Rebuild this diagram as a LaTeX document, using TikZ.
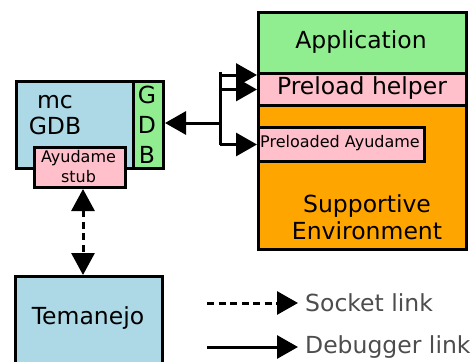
\documentclass[tikz,border=0pt]{standalone}
\usepackage{fontspec}
\setmainfont{DejaVu Sans}
\usetikzlibrary{arrows.meta}
\definecolor{lblue}{HTML}{ADD8E6}
\definecolor{lgreen}{HTML}{90EE90}
\definecolor{lpink}{HTML}{FFC0CB}
\definecolor{lorange}{HTML}{FFA500}
\definecolor{leggray}{HTML}{4D4D4D}
\begin{document}
\begin{tikzpicture}[x=1pt,y=-1pt,
  box/.style={draw=black, line width=3pt, inner sep=0pt, anchor=north west},
  big/.style={font=\fontsize{23.5}{27}\selectfont, inner sep=0pt},
  small/.style={font=\fontsize{16}{20}\selectfont, inner sep=0pt},
  dbg/.style={line width=3pt, -{Triangle[length=21pt,width=23pt]}},
  sock/.style={line width=3pt, dash pattern=on 7pt off 4.5pt},
  legtext/.style={font=\fontsize{23.5}{27}\selectfont, text=leggray, inner sep=0pt, anchor=west}]
\useasboundingbox (0,0) rectangle (472,362);
\clip (0,0) rectangle (472,362);

% left block
\node[box, fill=lblue, minimum width=117pt, minimum height=87pt] (mc) at (15,80) {};
\node[box, fill=lgreen, minimum width=30pt, minimum height=87pt] (gdb) at (132,80) {};
\node[box, fill=lpink, minimum width=91pt, minimum height=40pt] (stub) at (33,146) {};
\node[big, align=center, font=\fontsize{23.5}{26}\selectfont] (mclabel) at (55,115) {mc\\GDB};
\node[big, align=center, font=\fontsize{23.5}{30}\selectfont] (gdblabel) at (147,125) {G\\D\\B};
\node[small, align=center] (stublabel) at (78.5,167) {Ayudame\\stub};

% right block
\node[box, fill=lorange, minimum width=208pt, minimum height=144pt] (env) at (257,104) {};
\node[box, fill=lgreen, minimum width=208pt, minimum height=61pt] (app) at (257,11) {};
\node[box, fill=lpink, minimum width=208pt, minimum height=32pt] (helper) at (257,72) {};
\node[box, fill=lpink, minimum width=166pt, minimum height=34pt] (preA) at (257,126) {};
\node[big] (applabel) at (361,42) {Application};
\node[big] (helperlabel) at (362,88) {Preload helper};
\node[small] (preAlabel) at (340,143.5) {Preloaded Ayudame};
\node[big, align=center] (envlabel) at (367,217) {Supportive\\Environment};

% Temanejo
\node[box, fill=lblue, minimum width=147pt, minimum height=100pt] (tem) at (14,275) {};
\node[big] (temlabel) at (88,318.5) {Temanejo};

% debugger links
\coordinate (junc) at (220,123);
\draw[dbg] (junc) -- (gdb.east |- junc);
\draw[line width=3pt] (220,71.5) -- (220,144.5);
\draw[dbg] (junc |- app.south west) -- (app.south west);
\draw[dbg] (junc |- helper.west) -- (helper.west);
\draw[dbg] (junc |- preA.west) -- (preA.west);

% socket link
\coordinate (sx) at (83,0);
\draw[sock, {Triangle[length=22pt,width=23pt]}-{Triangle[length=22pt,width=23pt]}] (stub.south -| sx) -- (tem.north -| sx);

% legend
\node[legtext] (sl) at (305,302.5) {Socket link};
\node[legtext] (dl) at (305,347.5) {Debugger link};
\coordinate (sa) at (207,303);
\coordinate (da) at (207,347);
\draw[sock, -{Triangle[length=21pt,width=23pt]}] (sa) -- (298,303);
\draw[dbg] (da) -- (298,347);
\end{tikzpicture}
\end{document}
